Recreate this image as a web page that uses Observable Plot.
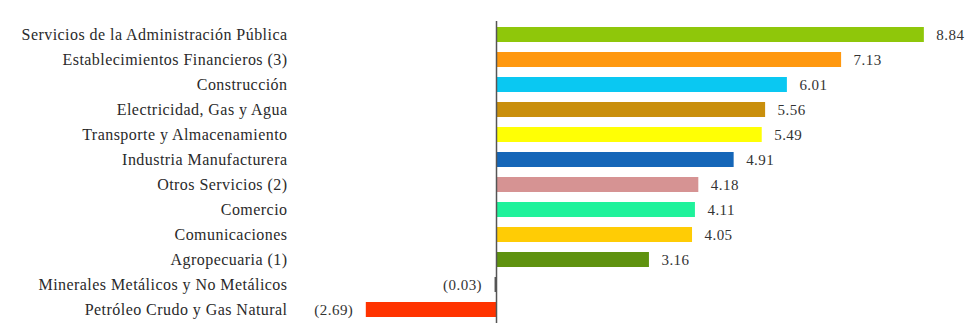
<!DOCTYPE html>
<html><head><meta charset="utf-8">
<script src="https://cdn.jsdelivr.net/npm/d3@7"></script>
<script src="https://cdn.jsdelivr.net/npm/@observablehq/plot@0.6"></script>
<style>body{margin:0;background:#fff}</style>
</head><body><div id="chart"></div>
<script>
const sectors = [
  "Servicios de la Administración Pública",
  "Establecimientos Financieros (3)",
  "Construcción",
  "Electricidad, Gas y Agua",
  "Transporte y Almacenamiento",
  "Industria Manufacturera",
  "Otros Servicios (2)",
  "Comercio",
  "Comunicaciones",
  "Agropecuaria (1)",
  "Minerales Metálicos y No Metálicos",
  "Petróleo Crudo y Gas Natural"
];
const values = [8.84, 7.13, 6.01, 5.56, 5.49, 4.91, 4.18, 4.11, 4.05, 3.16, -0.03, -2.69];
const colors = ["#8fc70a", "#ff980f", "#0ac8f2", "#c98f0c", "#ffff05", "#1566b8", "#d69393", "#1ff29b", "#ffcc05", "#5f920f", "#555555", "#ff3300"];

const data = sectors.map((s, i) => ({sector: s, value: values[i], color: colors[i]}));
const fmt = v => v < 0 ? `(${Math.abs(v).toFixed(2)})` : v.toFixed(2);

const chart = Plot.plot({
  width: 980,
  height: 330,
  marginLeft: 292,
  marginRight: 0,
  marginTop: 21,
  marginBottom: 7,
  style: {fontFamily: "'Liberation Serif', serif", background: "#fff", letterSpacing: "0.45px"},
  x: {domain: [-4.215, 10], axis: null},
  y: {domain: sectors, paddingInner: 0.4, paddingOuter: 0.2, label: null},
  marks: [
    Plot.axisY({tickSize: 0, tickPadding: 5, fontSize: 16, color: "#2a2a2a", label: null}),
    Plot.barX(data, {y: "sector", x: "value", fill: "color"}),
    Plot.text(data.filter(d => d.value >= 0), {y: "sector", x: "value", text: d => fmt(d.value), textAnchor: "start", dx: 12, fontSize: 15, fill: "#333"}),
    Plot.text(data.filter(d => d.value < 0), {y: "sector", x: "value", text: d => fmt(d.value), textAnchor: "end", dx: -13, fontSize: 15, fill: "#333"}),
    Plot.ruleX([0], {stroke: "#555", strokeWidth: 1.5})
  ]
});
document.getElementById("chart").append(chart);
</script>
</body></html>
